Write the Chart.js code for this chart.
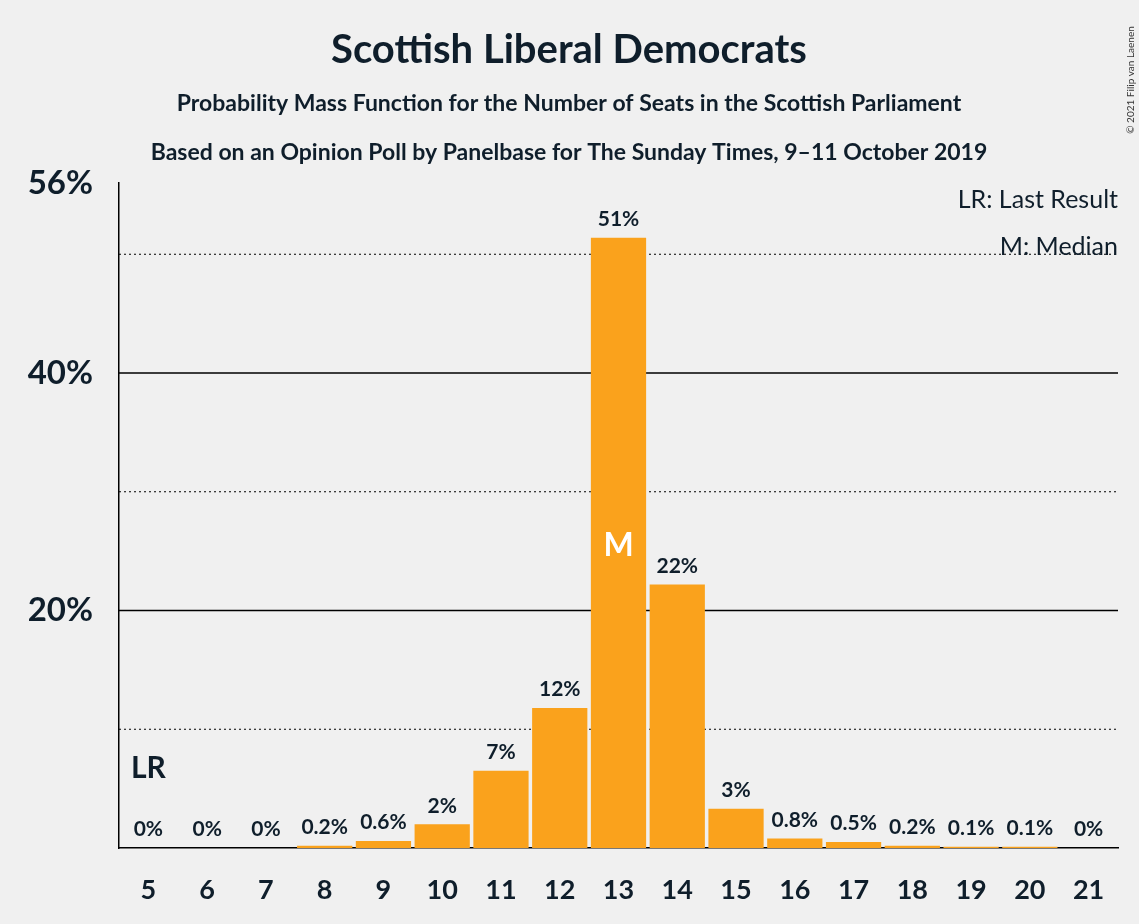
<!DOCTYPE html>
<html>
<head>
<meta charset="utf-8">
<script src="https://cdn.jsdelivr.net/npm/chart.js@4/dist/chart.umd.min.js"></script>
<style>
  body { margin: 0; background: #f0f0f0; }
  #wrap { width: 1139px; height: 924px; position: relative; }
</style>
</head>
<body>
<div id="wrap"><canvas id="chart"></canvas></div>
<script>
const seats = ["5","6","7","8","9","10","11","12","13","14","15","16","17","18","19","20","21"];
const probs = [0, 0, 0, 0.2, 0.6, 2.0, 6.5, 11.8, 51.4, 22.2, 3.3, 0.8, 0.5, 0.2, 0.1, 0.1, 0];
const barLabels = ["0%","0%","0%","0.2%","0.6%","2%","7%","12%","51%","22%","3%","0.8%","0.5%","0.2%","0.1%","0.1%","0%"];
const lastResult = "5";
const median = "13";

const ink = "#0f1e2b";

const decor = {
  id: "decor",
  beforeDatasetsDraw(chart) {
    const { ctx, chartArea: a, scales: { y } } = chart;
    ctx.save();
    [10, 20, 30, 40, 50].forEach(v => {
      const py = y.getPixelForValue(v);
      ctx.beginPath();
      ctx.strokeStyle = "#000";
      if (v % 20 === 0) { ctx.setLineDash([]); ctx.lineWidth = 1.5; }
      else { ctx.setLineDash([2, 3]); ctx.lineWidth = 1; }
      ctx.moveTo(a.left, py);
      ctx.lineTo(a.right, py);
      ctx.stroke();
    });
    ctx.restore();
  },
  afterDatasetsDraw(chart) {
    const { ctx, scales: { x, y } } = chart;
    const meta = chart.getDatasetMeta(0);
    ctx.save();
    ctx.textAlign = "center";
    ctx.textBaseline = "bottom";
    ctx.fillStyle = ink;
    ctx.font = "bold 21px Lato";
    meta.data.forEach((bar, i) => {
      ctx.fillText(barLabels[i], bar.x, bar.y - 8);
    });
    // LR marker
    const lrX = x.getPixelForValue(seats.indexOf(lastResult));
    ctx.font = "bold 30px Lato";
    ctx.fillText("LR", lrX, 783);
    // Median marker
    const mi = seats.indexOf(median);
    ctx.fillStyle = "#ffffff";
    ctx.font = "bold 32px Lato";
    ctx.textBaseline = "middle";
    ctx.fillText("M", meta.data[mi].x, 546);
    // legend text
    ctx.fillStyle = ink;
    ctx.textAlign = "right";
    ctx.font = "25px Lato";
    ctx.fillText("LR: Last Result", 1118, 200);
    ctx.fillText("M: Median", 1118, 247);
    // titles
    ctx.textAlign = "center";
    ctx.font = "bold 40px Lato";
    ctx.fillText("Scottish Liberal Democrats", 569, 50);
    ctx.font = "bold 23px Lato";
    ctx.fillText("Probability Mass Function for the Number of Seats in the Scottish Parliament", 569, 104);
    ctx.fillText("Based on an Opinion Poll by Panelbase for The Sunday Times, 9\u201311 October 2019", 569, 153);
    // copyright
    ctx.save();
    ctx.translate(1131, 80);
    ctx.rotate(-Math.PI / 2);
    ctx.font = "10px Lato";
    ctx.fillStyle = "#333";
    ctx.fillText("\u00a9 2021 Filip van Laenen", 0, 0);
    ctx.restore();
    ctx.restore();
  }
};

new Chart(document.getElementById("chart"), {
  type: "bar",
  data: {
    labels: seats,
    datasets: [{
      data: probs,
      backgroundColor: "#faa21c",
      categoryPercentage: 1,
      barPercentage: 0.94
    }]
  },
  options: {
    responsive: true,
    maintainAspectRatio: false,
    animation: false,
    layout: { padding: { top: 183, right: 21, left: 0, bottom: 0 } },
    plugins: { legend: { display: false }, tooltip: { enabled: false } },
    scales: {
      x: {
        grid: { display: false },
        border: { display: true, color: "#000", width: 1.5 },
        ticks: { color: ink, font: { family: "Lato", size: 27, weight: "bold" }, padding: 18 },
        afterFit(s) { s.height = 76; }
      },
      y: {
        min: 0,
        max: 56,
        grid: { display: false },
        border: { display: true, color: "#000", width: 1.5 },
        ticks: {
          stepSize: 20,
          color: ink,
          padding: 18,
          font: { family: "Lato", size: 33, weight: "bold" },
          callback: v => (v === 0 ? "" : v + "%")
        },
        afterFit(s) { s.width = 119; }
      }
    }
  },
  plugins: [decor]
});
</script>
</body>
</html>
